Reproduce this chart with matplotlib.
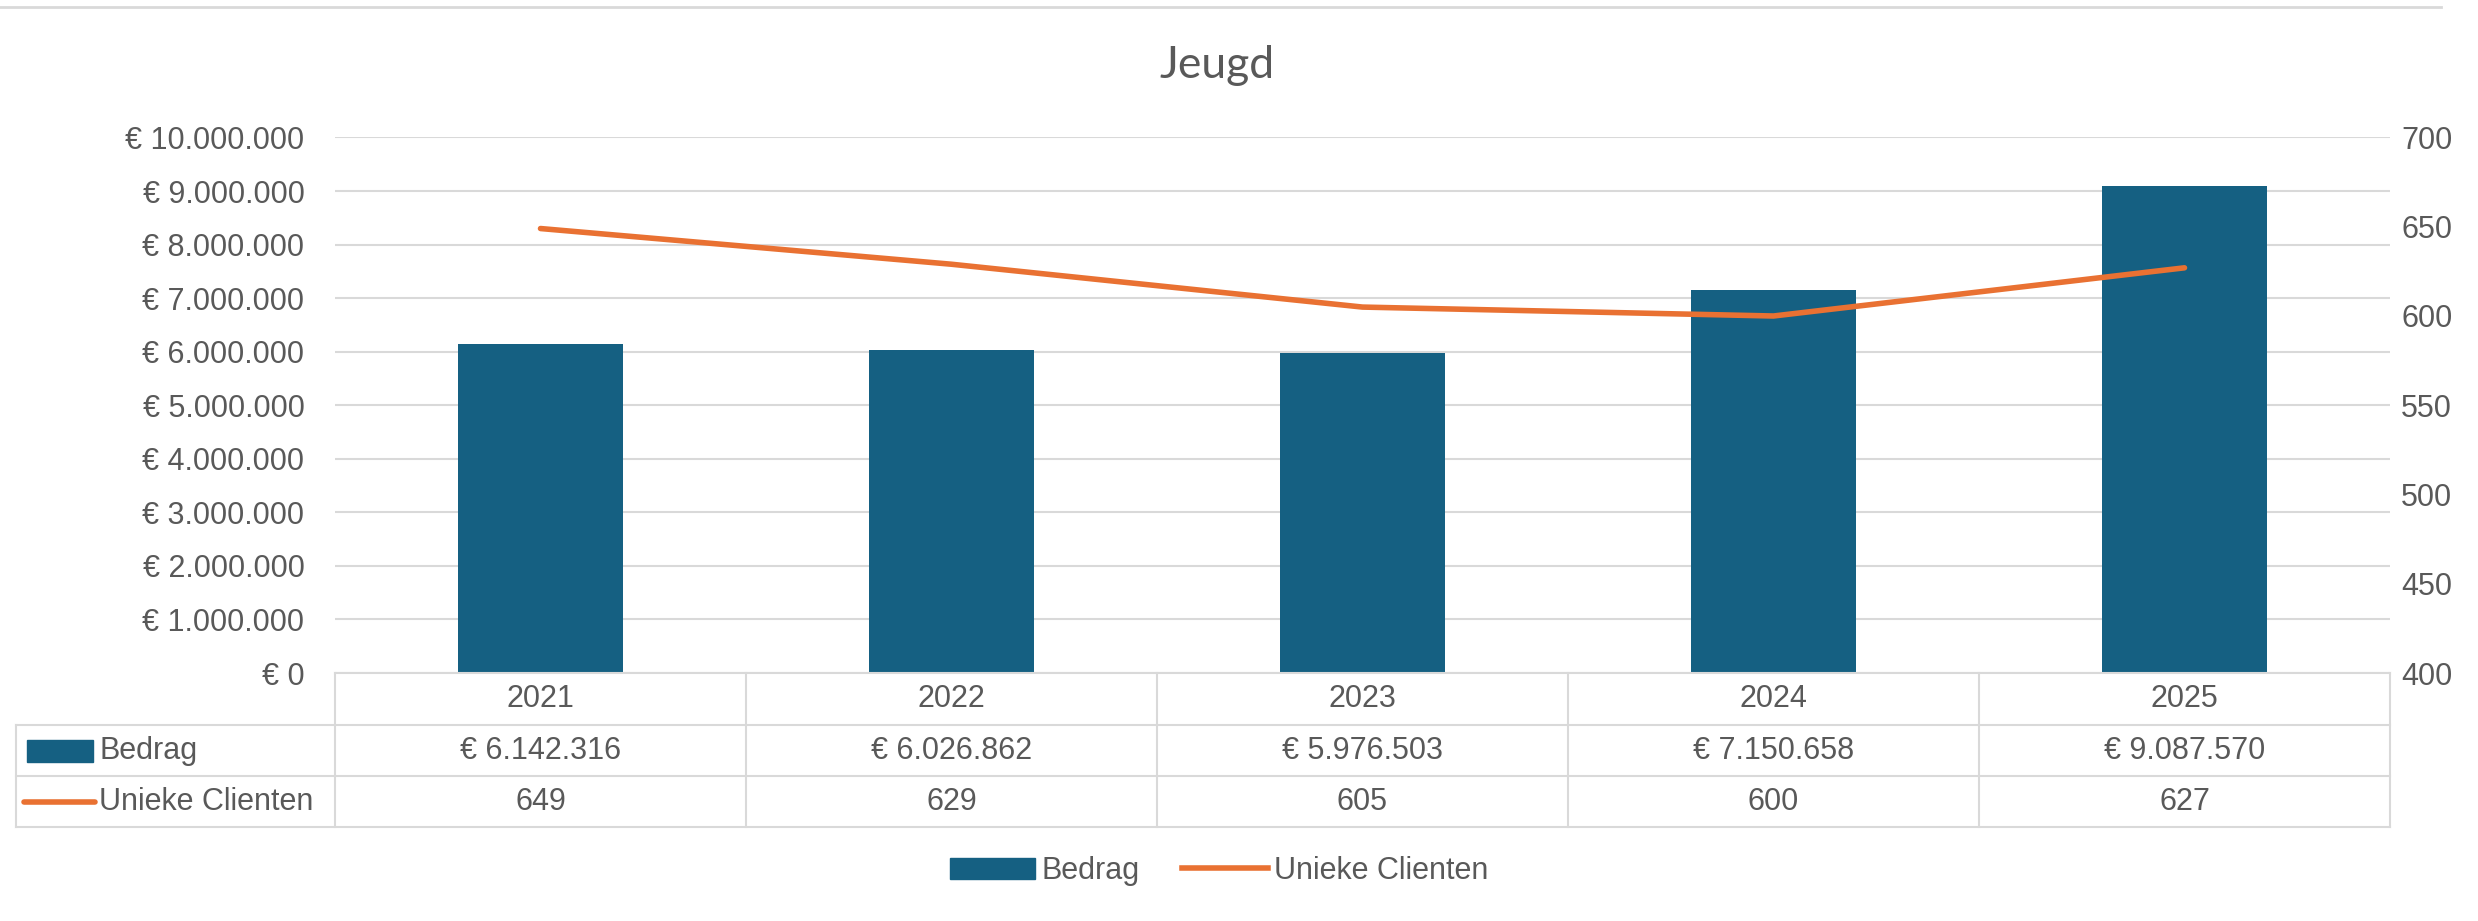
import matplotlib.pyplot as plt
from matplotlib.lines import Line2D
from matplotlib.patches import Patch
from matplotlib.transforms import blended_transform_factory
from matplotlib.ticker import FuncFormatter, MultipleLocator

# data
jaren = ['2021', '2022', '2023', '2024', '2025']
bedrag = [6142316, 6026862, 5976503, 7150658, 9087570]
clienten = [649, 629, 605, 600, 627]

blauw = '#156082'
oranje = '#E97132'
tekst = '#595959'
raster = '#d9d9d9'

W, H = 2478, 921
fig = plt.figure(figsize=(W / 100, H / 100), dpi=100)

def fx(px):
    return px / W

def fy(px):
    return 1 - px / H

left, right, top, bottom = 335, 2390, 137.5, 673
ax = fig.add_axes([fx(left), fy(bottom), fx(right - left), (bottom - top) / H])
ax2 = ax.twinx()

def euro(v, pos=None):
    return '€ ' + f'{v:,.0f}'.replace(',', '.')

x = list(range(len(jaren)))
ax.bar(x, bedrag, width=0.4, color=blauw, zorder=2)
ax2.plot(x, clienten, color=oranje, lw=4, solid_capstyle='round', zorder=3)

ax.set_xlim(-0.5, len(jaren) - 0.5)
ax.set_ylim(0, 10_000_000)
ax2.set_ylim(400, 700)
ax.yaxis.set_major_locator(MultipleLocator(1_000_000))
ax2.yaxis.set_major_locator(MultipleLocator(50))
ax.yaxis.set_major_formatter(FuncFormatter(euro))

ax.set_axisbelow(True)
ax.grid(axis='y', color=raster, lw=1.5)
ax.set_xticks([])
for a in (ax, ax2):
    for s in a.spines.values():
        s.set_visible(False)
ax.tick_params(axis='y', length=0, pad=22, labelsize=22, labelcolor=tekst)
ax2.tick_params(axis='y', length=0, pad=8, labelsize=22, labelcolor=tekst)
for lab in ax.get_yticklabels() + ax2.get_yticklabels():
    lab.set_family(['Liberation Sans', 'DejaVu Sans'])

fig.text(0.491, fy(65), 'Jeugd', ha='center', va='center', fontsize=32,
         color=tekst, family=['Lato', 'Liberation Sans', 'DejaVu Sans'])

# top border of chart area
fig.add_artist(Line2D([0, 0.985], [fy(7), fy(7)], color=raster, lw=2))

# data table
smal = ['Liberation Sans', 'DejaVu Sans']
fs = 22
tr = blended_transform_factory(ax.transData, fig.transFigure)
rows = [673, 725, 776, 827]
n = len(jaren)
for y in rows[1:]:
    fig.add_artist(Line2D([fx(16), fx(right)], [fy(y), fy(y)], color=raster, lw=1.5))
fig.add_artist(Line2D([fx(left), fx(right)], [fy(rows[0]), fy(rows[0])], color=raster, lw=1.5))
fig.add_artist(Line2D([fx(16), fx(16)], [fy(rows[1]), fy(rows[3])], color=raster, lw=1.5))
for i in range(n + 1):
    xs = i - 0.5
    ax.add_artist(Line2D([xs, xs], [fy(rows[0]), fy(rows[3])], color=raster, lw=1.5,
                         transform=tr, clip_on=False))

for i, j in enumerate(jaren):
    ax.text(i, fy((rows[0] + rows[1]) / 2), j, transform=tr,
            ha='center', va='center', fontsize=fs, color=tekst, family=smal)
    ax.text(i, fy((rows[1] + rows[2]) / 2), euro(bedrag[i]), transform=tr,
            ha='center', va='center', fontsize=fs, color=tekst, family=smal)
    ax.text(i, fy((rows[2] + rows[3]) / 2), str(clienten[i]), transform=tr,
            ha='center', va='center', fontsize=fs, color=tekst, family=smal)

# row labels with keys
yb = fy((rows[1] + rows[2]) / 2)
yu = fy((rows[2] + rows[3]) / 2)
fig.add_artist(plt.Rectangle((fx(27), yb - 11 / H), fx(66), 22 / H, color=blauw))
fig.add_artist(Line2D([fx(24), fx(95)], [yu, yu], color=oranje, lw=4, solid_capstyle='round'))
fig.text(fx(99), yb, 'Bedrag', ha='left', va='center', fontsize=fs, color=tekst, family=smal)
fig.text(fx(99), yu, 'Unieke Clienten', ha='left', va='center', fontsize=fs, color=tekst, family=smal)

# legend
handles = [Patch(color=blauw, label='Bedrag'),
           Line2D([], [], color=oranje, lw=4, label='Unieke Clienten')]
leg = fig.legend(handles=handles, loc='center', bbox_to_anchor=(0.492, fy(871)), ncol=2,
                 frameon=False, handlelength=2.8, handletextpad=0.2, columnspacing=1.4,
                 prop={'family': smal, 'size': fs})
for t in leg.get_texts():
    t.set_color(tekst)

fig.savefig('out.png', dpi=100)
